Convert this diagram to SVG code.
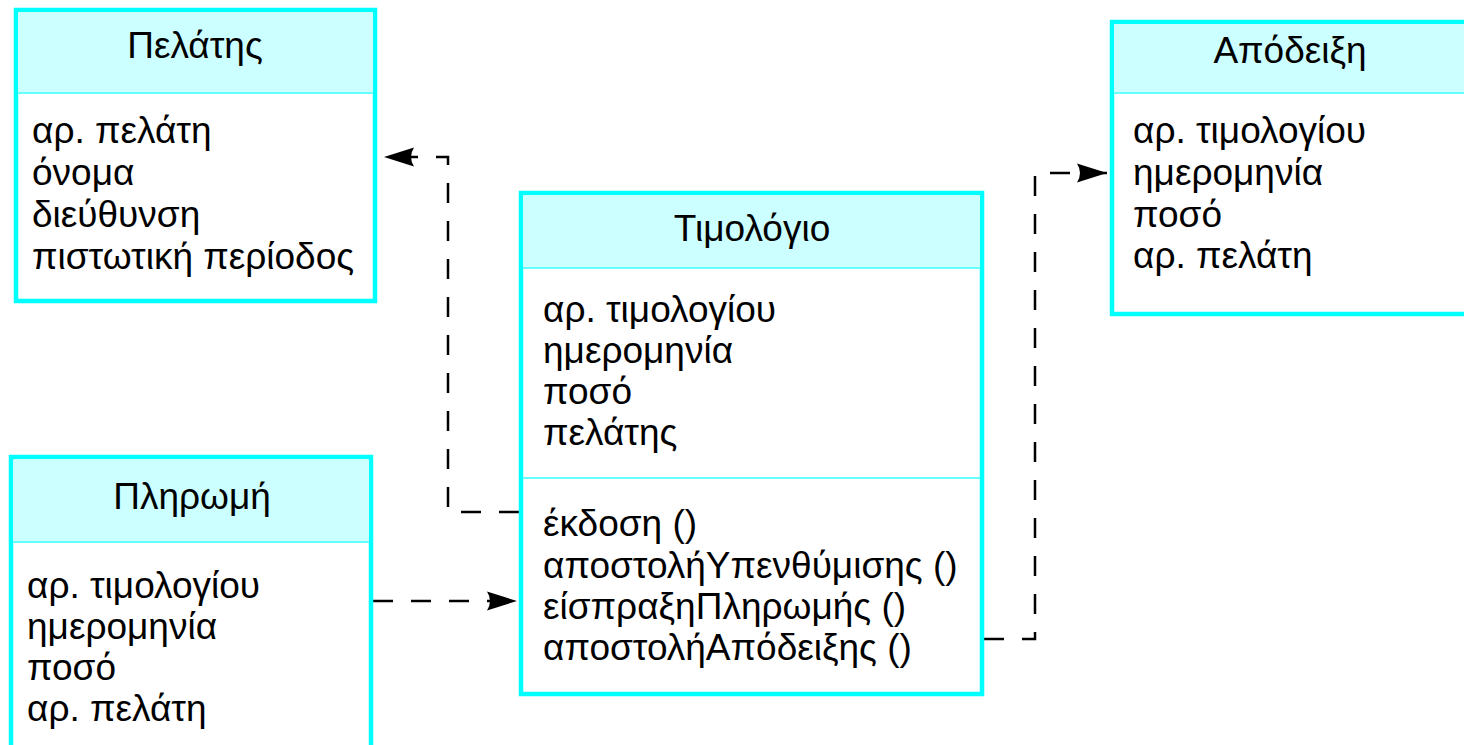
<svg xmlns="http://www.w3.org/2000/svg" width="1464" height="745" viewBox="0 0 1464 745">
<defs>
<style>
.box{fill:#ffffff;stroke:#00ffff;stroke-width:4.5}
.hdr{fill:#ccffff;stroke:none}
.div{stroke:#66ffff;stroke-width:2;fill:none}
.t{font-family:"Liberation Sans",Arial,sans-serif;font-size:37px;fill:#000}
.title{text-anchor:middle}
.conn{fill:none;stroke:#000;stroke-width:2.5;stroke-dasharray:20 18}
</style>
<marker id="arr" markerUnits="userSpaceOnUse" markerWidth="34" markerHeight="22" refX="32" refY="11" orient="auto">
<path d="M32,11 L2,1.5 Q8,11 2,20.5 Z" fill="#000"/>
</marker>
</defs>
<rect width="1464" height="745" fill="#fff"/>
<g id="connectors">
<path class="conn" d="M519,512 H448 V157 H384" marker-end="url(#arr)"/>
<path class="conn" d="M373,601 H517" marker-end="url(#arr)"/>
<path class="conn" d="M984,639 H1035 V173 H1107" marker-end="url(#arr)"/>
</g>
<g id="pelatis">
<rect class="box" x="16" y="10" width="359" height="291"/>
<rect class="hdr" x="18.25" y="12.25" width="354.5" height="80.75"/>
<line class="div" x1="18" y1="93" x2="373" y2="93"/>
<text class="t title" x="195" y="58">Πελάτης</text>
<text class="t" x="32" y="143">αρ. πελάτη</text>
<text class="t" x="32" y="185">όνομα</text>
<text class="t" x="32" y="227">διεύθυνση</text>
<text class="t" x="32" y="269">πιστωτική περίοδος</text>
</g>
<g id="apodeixi">
<rect class="box" x="1112" y="22" width="362" height="292"/>
<rect class="hdr" x="1114.25" y="24.25" width="360" height="68.75"/>
<line class="div" x1="1114" y1="93" x2="1470" y2="93"/>
<text class="t title" x="1290" y="63">Απόδειξη</text>
<text class="t" x="1133" y="143">αρ. τιμολογίου</text>
<text class="t" x="1133" y="185">ημερομηνία</text>
<text class="t" x="1133" y="227">ποσό</text>
<text class="t" x="1133" y="268">αρ. πελάτη</text>
</g>
<g id="timologio">
<rect class="box" x="521" y="193" width="461" height="501"/>
<rect class="hdr" x="523.25" y="195.25" width="456.5" height="72.75"/>
<line class="div" x1="523" y1="268" x2="980" y2="268"/>
<line class="div" x1="523" y1="478" x2="980" y2="478"/>
<text class="t title" x="752" y="241">Τιμολόγιο</text>
<text class="t" x="543" y="322">αρ. τιμολογίου</text>
<text class="t" x="543" y="363">ημερομηνία</text>
<text class="t" x="543" y="404">ποσό</text>
<text class="t" x="543" y="445">πελάτης</text>
<text class="t" x="543" y="536">έκδοση ()</text>
<text class="t" x="543" y="577.5">αποστολήΥπενθύμισης ()</text>
<text class="t" x="543" y="618.5">είσπραξηΠληρωμής ()</text>
<text class="t" x="543" y="659.5">αποστολήΑπόδειξης ()</text>
</g>
<g id="pliromi">
<rect class="box" x="11" y="457" width="360" height="300"/>
<rect class="hdr" x="13.25" y="459.25" width="355.5" height="82.75"/>
<line class="div" x1="13" y1="542" x2="369" y2="542"/>
<text class="t title" x="192" y="509">Πληρωμή</text>
<text class="t" x="27" y="598">αρ. τιμολογίου</text>
<text class="t" x="27" y="639">ημερομηνία</text>
<text class="t" x="27" y="680">ποσό</text>
<text class="t" x="27" y="721">αρ. πελάτη</text>
</g>
</svg>
